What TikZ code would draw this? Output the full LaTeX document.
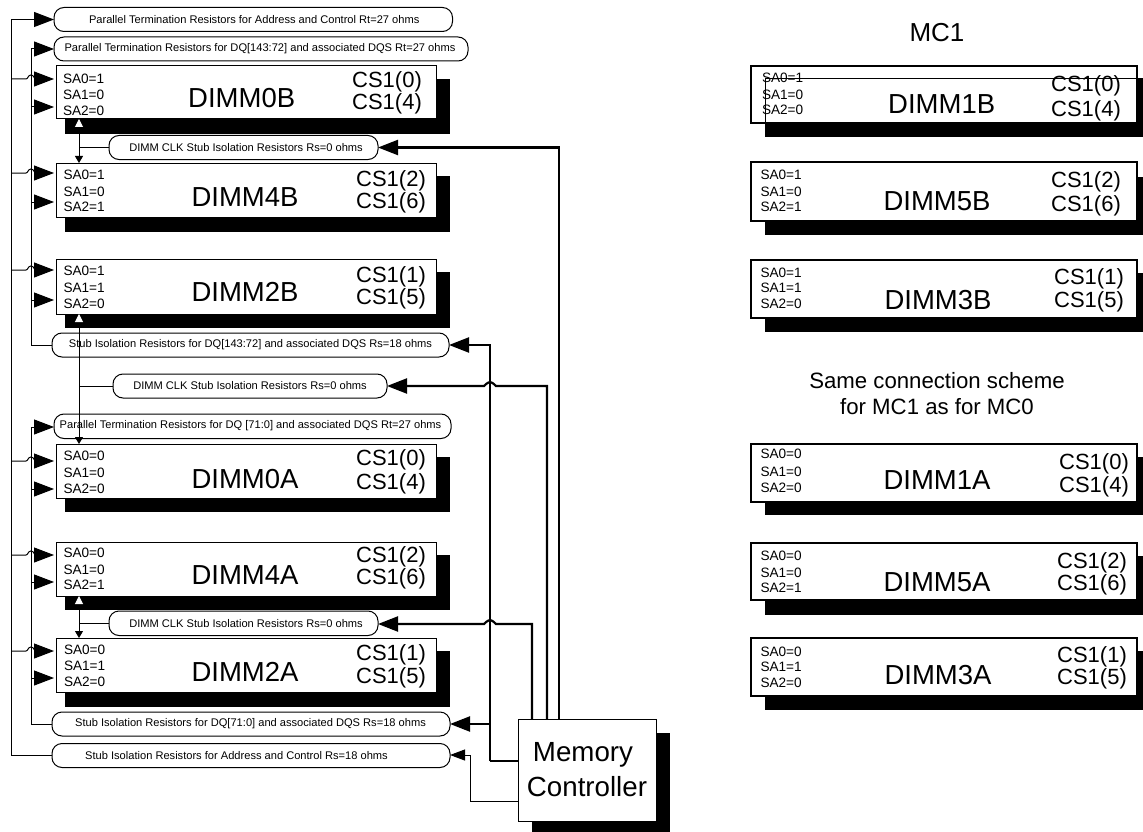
\documentclass[tikz,border=0pt]{standalone}
\usepackage{fontspec}
\setmainfont{Liberation Sans}
\usetikzlibrary{arrows.meta}
\newcommand{\fsz}[1]{\fontsize{#1pt}{#1pt}\selectfont}
\tikzset{
  boxnode/.style={draw=black,fill=white,rectangle,inner sep=0pt,outer sep=0pt,line width=1pt},
  dimmL/.style={boxnode},
  dimmR/.style={boxnode,line width=2.2pt},
  roundbox/.style={boxnode,rounded corners=10pt},
  lbl/.style={inner sep=0pt,outer sep=0pt,text=black},
  salbl/.style={lbl,anchor=west,font=\fsz{13.6}},
  cslbl/.style={lbl,font=\fsz{22},yshift=-1.5pt},
  dimmlbl/.style={lbl,font=\fsz{27.5}},
  reslbl/.style={lbl,font=\fsz{11.1}},
  biglbl/.style={lbl,font=\fsz{27.7}},
  notelbl/.style={lbl,font=\fsz{22.2}},
  wire/.style={line width=1pt,draw=black},
  heavy/.style={line width=2.2pt,draw=black},
  bigtip/.style={-{Triangle[length=20pt,width=15pt]}},
  smalltip/.style={-{Triangle[length=15pt,width=11pt]}},
  clkline/.style={wire,{Triangle[length=8pt,width=8pt,color=white]}-{Triangle[length=7pt,width=8pt]}},
}
% name x1 y1 x2 y2 style
\newcommand{\bx}[6]{\node[#6,minimum width={(#4-#2)*1pt},minimum height={(#5-#3)*1pt}] (#1) at ({(#2+#4)/2},{(#3+#5)/2}) {};}
% name prefix, x, y1,y2,y3, values
\newcommand{\sa}[8]{%
  \node[salbl] (#1a) at (#2,#3) {SA0=#6};
  \node[salbl] (#1b) at (#2,#4) {SA1=#7};
  \node[salbl] (#1c) at (#2,#5) {SA2=#8};}
\newcommand{\cs}[6]{%
  \node[cslbl] (#1p) at (#2,#3) {CS1(#5)};
  \node[cslbl] (#1q) at (#2,#4) {CS1(#6)};}
\newcommand{\shad}[4]{\fill[black] (#1,#2) rectangle (#3,#4);}
% branch from bus 1 with a hop over bus 2, into node
\newcommand{\hop}[2]{\draw[wire,bigtip,shorten >=2pt] (bus1 |- 0,#1) -- (26,#1) .. controls (28,#1) and (28,#1-4) .. (31,#1-4) .. controls (34,#1-4) and (34,#1) .. (36,#1) -- (#2.west |- 0,#1);}
\newcommand{\tap}[2]{\draw[wire,bigtip,shorten >=2pt] (bus2 |- 0,#1) -- (#2.west |- 0,#1);}
\begin{document}
\begin{tikzpicture}[x=1pt,y=-1pt]
\useasboundingbox (0,0) rectangle (1143,832);
\fill[white] (0,0) rectangle (1143,832);
\coordinate (bus1) at (11,19.5);
\coordinate (bus2) at (31,49);
\coordinate (bus2b) at (31,427);
\coordinate (clkx) at (79,0);
% ---------- shadows left
\shad{64.5}{79}{450}{134}
\shad{64.5}{176}{450}{232}
\shad{64.5}{272}{450}{328}
\shad{64.5}{457}{450}{512}
\shad{64.5}{555}{450}{610}
\shad{64.5}{651}{450}{707}
\shad{532}{733}{670}{832}
% ---------- DIMM boxes left
\bx{d0b}{56}{66}{436}{119}{dimmL}
\bx{d4b}{56}{163}{436}{217}{dimmL}
\bx{d2b}{56}{259}{436}{314}{dimmL}
\bx{d0a}{56}{444}{436}{498}{dimmL}
\bx{d4a}{56}{542}{436}{596}{dimmL}
\bx{d2a}{56}{638}{436}{692}{dimmL}
\sa{sd0b}{63}{79}{95}{111}{1}{0}{0}
\sa{sd4b}{63.5}{175}{192}{207}{1}{0}{1}
\sa{sd2b}{63.5}{271}{288}{304}{1}{1}{0}
\sa{sd0a}{63.5}{456}{473}{489}{0}{0}{0}
\sa{sd4a}{63.5}{553}{570}{585}{0}{0}{1}
\sa{sd2a}{64}{650}{666}{682}{0}{1}{0}
\node[dimmlbl] (nd0b) at (241.7,98) {DIMM0B};
\node[dimmlbl] (nd4b) at (245,197) {DIMM4B};
\node[dimmlbl] (nd2b) at (245,292) {DIMM2B};
\node[dimmlbl] (nd0a) at (245,479) {DIMM0A};
\node[dimmlbl] (nd4a) at (245,575) {DIMM4A};
\node[dimmlbl] (nd2a) at (245,672) {DIMM2A};
\cs{cd0b}{387}{80}{102}{0}{4}
\cs{cd4b}{391}{179}{201}{2}{6}
\cs{cd2b}{391}{275}{297}{1}{5}
\cs{cd0a}{391}{458}{482}{0}{4}
\cs{cd4a}{391}{555}{577}{2}{6}
\cs{cd2a}{391}{653}{676}{1}{5}
% ---------- rounded resistor boxes
\bx{r1}{54}{7.5}{452.5}{31.5}{roundbox}
\bx{r2}{54}{37}{468}{61}{roundbox}
\bx{r3}{109}{135.5}{378}{159.5}{roundbox}
\bx{r4}{52}{333}{449}{357}{roundbox}
\bx{r5}{113}{374}{387}{398}{roundbox}
\bx{r6}{54}{414}{451}{438.5}{roundbox}
\bx{r7}{109}{611}{378}{635.5}{roundbox}
\bx{r8}{52}{712}{450}{736}{roundbox}
\bx{r9}{52}{743.5}{450}{767.5}{roundbox}
\node[reslbl] (t1) at (254.2,19.5) {Parallel Termination Resistors for Address and Control Rt=27 ohms};
\node[reslbl] (t2) at (260,48.5) {Parallel Termination Resistors for DQ[143:72] and associated DQS Rt=27 ohms};
\node[reslbl] (t3) at (246,148) {DIMM CLK Stub Isolation Resistors Rs=0 ohms};
\node[reslbl] (t4) at (250.5,345) {Stub Isolation Resistors for DQ[143:72] and associated DQS Rs=18 ohms};
\node[reslbl] (t5) at (250,385.5) {DIMM CLK Stub Isolation Resistors Rs=0 ohms};
\node[reslbl] (t6) at (250.5,426) {Parallel Termination Resistors for DQ [71:0] and associated DQS Rt=27 ohms};
\node[reslbl] (t7) at (246,624) {DIMM CLK Stub Isolation Resistors Rs=0 ohms};
\node[reslbl] (t8) at (250.5,724) {Stub Isolation Resistors for DQ[71:0] and associated DQS Rs=18 ohms};
\node[reslbl] (t9) at (236.5,756) {Stub Isolation Resistors for Address and Control Rs=18 ohms};
% ---------- memory controller
\bx{mc}{518}{719}{656}{821}{boxnode}
\node[biglbl] (mc1t) at (583,754.5) {Memory};
\node[biglbl] (mc2t) at (587,787) {Controller};
% ---------- buses
\draw[wire] (bus1) -- (bus1 |- r9.west) -- (r9.west);
\draw[wire] (bus2) -- (bus2 |- r4.west) -- (r4.west);
\draw[wire] (bus2b) -- (bus2b |- r8.west) -- (r8.west);
\draw[wire,bigtip] (bus1) -- (r1.west);
\draw[wire,bigtip] (bus2) -- (r2.west);
\draw[wire,bigtip] (bus2b) -- (bus2b -| r6.west);
\hop{79}{d0b}\tap{107}{d0b}
\hop{173}{d4b}\tap{202}{d4b}
\hop{270}{d2b}\tap{300}{d2b}
\hop{461}{d0a}\tap{489}{d0a}
\hop{555}{d4a}\tap{582}{d4a}
\hop{651}{d2a}\tap{678}{d2a}
% ---------- clock lines
\draw[clkline] (clkx |- d0b.south) -- (clkx |- d4b.north);
\draw[wire] (r3.west) -- (clkx |- r3.west);
\draw[clkline] (clkx |- d2b.south) -- (clkx |- d0a.north);
\draw[wire] (r5.west) -- (clkx |- r5.west);
\draw[clkline] (clkx |- d4a.south) -- (clkx |- d2a.north);
\draw[wire] (r7.west) -- (clkx |- r7.west);
% ---------- controller outputs
\coordinate (m1) at (559,0);
\coordinate (m2) at (547,0);
\coordinate (m3) at (532,0);
\coordinate (m4) at (490,0);
\draw[heavy,bigtip] (m1 |- mc.north) -- (m1 |- r3.east) -- (r3.east);
\draw[heavy,bigtip] (m2 |- mc.north) -- (547,386) -- (496,386) .. controls (493,383) and (491,382) .. (490,382) .. controls (489,382) and (487,383) .. (484,386) -- (r5.east |- 0,386);
\draw[heavy,bigtip] (m3 |- mc.north) -- (532,624) -- (496,624) .. controls (493,621) and (491,620) .. (490,620) .. controls (489,620) and (487,621) .. (484,624) -- (r7.east |- 0,624);
\draw[line width=2.8pt] (mc.west |- 0,761) -- (m4 |- 0,761);
\draw[heavy,bigtip] (m4 |- 0,761) -- (m4 |- r4.east) -- (r4.east);
\draw[heavy,bigtip] (m4 |- r8.east) -- (r8.east);
\draw[wire,smalltip] (mc.west |- 0,801) -- (470,801) -- (470,755) -- (r9.east |- 0,755);
% ---------- right column
\shad{765}{79}{1143}{137}
\shad{765}{177}{1143}{235}
\shad{765}{273}{1143}{332}
\shad{765}{457}{1143}{515}
\shad{765}{556}{1143}{615}
\shad{765}{651}{1143}{710}
\bx{d1b}{751}{66}{1137}{123}{dimmR}
\bx{d5b}{751}{162}{1137}{221}{dimmR}
\bx{d3b}{751}{260}{1137}{318}{dimmR}
\bx{d1a}{751}{444}{1137}{502}{dimmR}
\bx{d5a}{751}{543}{1137}{600}{dimmR}
\bx{d3a}{751}{638}{1137}{696}{dimmR}
\sa{sd1b}{762}{78}{95}{110}{1}{0}{0}
\sa{sd5b}{760.5}{175}{192}{207}{1}{0}{1}
\sa{sd3b}{760.5}{273}{288}{304}{1}{1}{0}
\sa{sd1a}{760.5}{454}{472}{488}{0}{0}{0}
\sa{sd5a}{760.5}{556}{573}{588}{0}{0}{1}
\sa{sd3a}{760.5}{652}{667}{683}{0}{1}{0}
\node[dimmlbl] (nd1b) at (941.7,104) {DIMM1B};
\node[dimmlbl] (nd5b) at (937,201) {DIMM5B};
\node[dimmlbl] (nd3b) at (938,300) {DIMM3B};
\node[dimmlbl] (nd1a) at (937,480) {DIMM1A};
\node[dimmlbl] (nd5a) at (937,582) {DIMM5A};
\node[dimmlbl] (nd3a) at (938,675) {DIMM3A};
\cs{cd1b}{1086}{84}{109}{0}{4}
\cs{cd5b}{1086}{180}{204}{2}{6}
\cs{cd3b}{1089}{277}{300}{1}{5}
\cs{cd1a}{1094}{462}{485}{0}{4}
\cs{cd5a}{1092}{561}{583}{2}{6}
\cs{cd3a}{1092}{655}{677}{1}{5}
\draw[wire] (765,123) -- (765,79) -- (1143,79);
\node[lbl,font=\fsz{26}] (mc1lbl) at (937,33) {MC1};
\node[notelbl] (note1) at (937,381) {Same connection scheme};
\node[notelbl] (note2) at (937,407) {for MC1 as for MC0};
\end{tikzpicture}
\end{document}
